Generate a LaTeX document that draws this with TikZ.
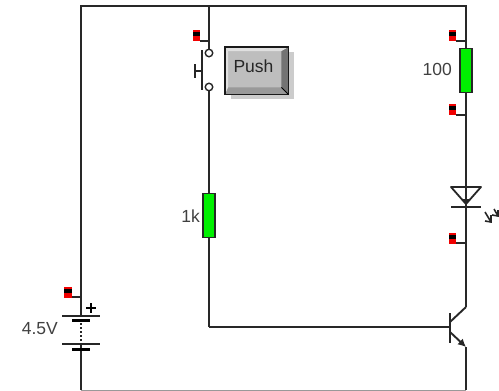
\documentclass[tikz,border=0pt]{standalone}
\usepackage{fontspec}
\setmainfont{Liberation Sans}
\usetikzlibrary{arrows.meta}
\definecolor{wire}{HTML}{282828}
\definecolor{flagred}{HTML}{F00000}
\definecolor{resgreen}{HTML}{00F000}
\definecolor{btn}{HTML}{BEBEBE}
\tikzset{
  x=1pt,y=-1pt,
  wireline/.style={draw=wire,line width=1.9pt},
  res/.style={draw=black!85,line width=1.7pt,fill=resgreen,minimum width=12pt,minimum height=44pt,inner sep=0pt},
  lbl/.style={font=\fontsize{17.5}{20}\selectfont,text=black!75,inner sep=0pt},
  flagbox/.style={fill=flagred,minimum width=7.5pt,minimum height=11pt,inner sep=0pt},
  contact/.style={circle,draw=black!85,line width=1.4pt,fill=white,minimum size=7.5pt,inner sep=0pt},
  plate/.style={draw=black!85,line width=1.8pt},
  thickplate/.style={draw=black,line width=3pt},
}
\newcommand{\flagat}[2]{%
  \node[flagbox] (#1) at (#2) {};
  \fill[black] ([yshift=-2pt]#1.north west) rectangle ([yshift=-6.5pt]#1.north east);
}
\begin{document}
\begin{tikzpicture}
\useasboundingbox (0,0) rectangle (499,391);
% junctions
\coordinate (tl) at (81,6);
\coordinate (tm) at (209,6);
\coordinate (tr) at (466,6);
\coordinate (bl) at (81,390);
\coordinate (br) at (466,390);
\coordinate (basej) at (209,327);
% resistors
\node[res] (r1k) at (209,215.5) {};
\node[res] (r100) at (466,70.5) {};
\node[lbl,anchor=east] (l1k) at (200,216) {1k};
\node[lbl,anchor=east] (l100) at (452,69) {100};
\node[lbl,anchor=east] (lbat) at (58,329) {4.5V};
% switch
\node[contact] (s1) at (209,53) {};
\node[contact] (s2) at (209,87) {};
\coordinate (sbt) at (202,50);
\coordinate (sbb) at (202,90);
\coordinate (sbm) at (202,71);
\coordinate (sh) at (195,71);
\coordinate (sht) at (195,64);
\coordinate (shb) at (195,78);
\draw[plate] (sbt) -- (sbb);
\draw[plate] (sbm) -- (sh);
\draw[plate] (sht) -- (shb);
% button
\fill[black!20] (231,52) rectangle (294,99);
\node[fill=btn,minimum width=63pt,minimum height=47pt,inner sep=0pt,anchor=north west] (push) at (225,47) {};
\fill[black!55] (push.north east) -- ([shift={(-7,4)}]push.north east) -- ([shift={(-7,-7)}]push.south east) -- (push.south east) -- cycle;
\fill[black!40] (push.south west) -- ([shift={(3,-7)}]push.south west) -- ([shift={(-7,-7)}]push.south east) -- (push.south east) -- cycle;
\fill[black!12] (push.north west) -- ([shift={(3,4)}]push.north west) -- ([shift={(-7,4)}]push.north east) -- (push.north east) -- cycle;
\fill[black!12] (push.north west) -- ([shift={(3,4)}]push.north west) -- ([shift={(3,-7)}]push.south west) -- (push.south west) -- cycle;
\draw[black!90,line width=1.5pt] (push.north west) rectangle (push.south east);
\draw[black,line width=1pt] ([shift={(-7,-7)}]push.south east) -- (push.south east);
\node[lbl,text=black!85] (ptext) at (253.5,66.5) {Push};
% wires
\draw[wireline] (bl) -- (tl) -- (tr) -- (r100.north);
\draw[wireline] (tm) -- (s1.north);
\draw[wireline] (s2.south) -- (r1k.north);
\draw[wireline] (r1k.south) -- (basej);
% flags
\flagat{f1}{196.5,35.5}
\flagat{f2}{452.5,35.5}
\flagat{f3}{452.5,109.5}
\flagat{f4}{452.5,238.5}
\flagat{f5}{68,292.5}
\coordinate (j1) at (209,41);
\coordinate (j2) at (466,41);
\coordinate (j3) at (466,115);
\coordinate (j4) at (466,243);
\coordinate (j5) at (81,297);
\draw[wireline] (f1.east |- j1) -- (j1);
\draw[wireline] (f2.east |- j2) -- (j2);
\draw[wireline] (f3.east |- j3) -- (j3);
\draw[wireline] (f4.east |- j4) -- (j4);
\draw[wireline] (f5.east |- j5) -- (j5);
% LED
\coordinate (la) at (451,187);
\coordinate (lb) at (481,187);
\coordinate (lc) at (466,204);
\coordinate (ld) at (466,207);
\coordinate (le) at (451,207);
\coordinate (lf) at (481,207);
\draw[plate,line join=round] (la) -- (lb) -- (lc) -- cycle;
\fill[black!85] (462,199) -- (470,199) -- (lc) -- cycle;
\draw[plate] (le) -- (lf);
\draw[wireline] (r100.south) -- (ld);
\coordinate (a1) at (485,212);
\coordinate (a1h) at (491,222);
\coordinate (a2) at (494,209);
\coordinate (a2h) at (498,216);
\draw[black!85,line width=1.6pt] (a1) -- (a1h);
\draw[black!85,line width=1.6pt] (491,215) -- (a1h) -- (485,221);
\draw[black!85,line width=1.6pt] (a2) -- (a2h);
\draw[black!85,line width=1.6pt] (498,210) -- (a2h) -- (492,215);
% transistor
\coordinate (tq) at (450,327);
\coordinate (qbt) at (450,313);
\coordinate (qbb) at (450,343);
\coordinate (qc) at (466,307);
\coordinate (qci) at (450,322);
\coordinate (qe) at (466,347);
\coordinate (qei) at (450,332);
\draw[plate] (qbt) -- (qbb);
\draw[wireline] (ld) -- (qc);
\draw[wireline] (qc) -- (qci);
\draw[wireline,-{Latex[length=8pt,width=8pt]}] (qei) -- (qe);
\draw[wireline] (qe) -- (br);
\draw[wireline] (basej) -- (tq);
\draw[draw=black!40,line width=1pt] (bl) -- (br);
% battery
\coordinate (p1l) at (62,316);
\coordinate (p1r) at (100,316);
\coordinate (p2l) at (72,320);
\coordinate (p2r) at (90,320);
\coordinate (p3l) at (62,344);
\coordinate (p3r) at (100,344);
\coordinate (p4l) at (72,349);
\coordinate (p4r) at (90,349);
\fill[white] (76,317) rectangle (86,343);
\draw[plate] (p1l) -- (p1r);
\draw[thickplate] (p2l) -- (p2r);
\draw[plate] (p3l) -- (p3r);
\draw[thickplate] (p4l) -- (p4r);
\coordinate (dt) at (81,323);
\coordinate (db) at (81,343);
\draw[black!85,line width=1.8pt,dash pattern=on 2pt off 2pt] (dt) -- (db);
\draw[black,line width=1.6pt] (86,308) -- (96,308) (91,303) -- (91,313);
\end{tikzpicture}
\end{document}
